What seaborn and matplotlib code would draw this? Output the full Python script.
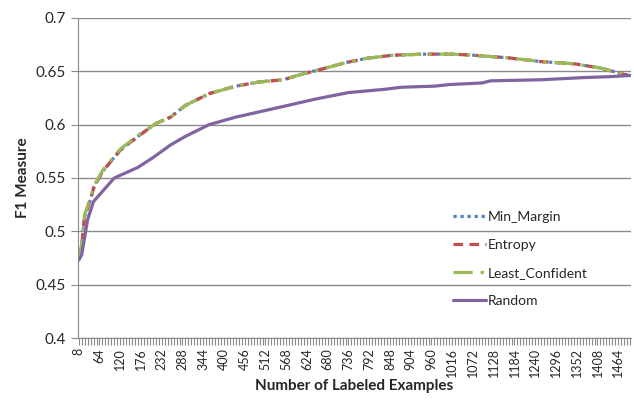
import numpy as np
import pandas as pd
import seaborn as sns
import matplotlib.pyplot as plt
from matplotlib.ticker import MultipleLocator, FixedLocator

# values (labeled examples vs F1)
x_unc = [8, 16, 24, 40, 48, 72, 120, 168, 216, 256, 296, 360, 432, 496, 560, 608,
         664, 728, 784, 856, 944, 1016, 1072, 1168, 1256, 1344, 1416, 1448, 1480, 1496]
min_margin = [0.475, 0.487, 0.514, 0.530, 0.541, 0.556, 0.576, 0.589, 0.601, 0.607,
              0.618, 0.629, 0.636, 0.640, 0.642, 0.647, 0.652, 0.658, 0.662, 0.665,
              0.666, 0.666, 0.665, 0.6625, 0.659, 0.657, 0.653, 0.650, 0.647, 0.646]
entropy = [0.475, 0.487, 0.514, 0.530, 0.540, 0.556, 0.576, 0.589, 0.601, 0.607,
           0.618, 0.629, 0.636, 0.640, 0.642, 0.647, 0.652, 0.658, 0.662, 0.665,
           0.666, 0.666, 0.665, 0.6625, 0.659, 0.657, 0.653, 0.650, 0.647, 0.646]
least_confident = [0.475, 0.488, 0.516, 0.532, 0.542, 0.557, 0.577, 0.590, 0.601, 0.607,
                   0.618, 0.629, 0.636, 0.640, 0.642, 0.647, 0.652, 0.658, 0.662, 0.665,
                   0.666, 0.666, 0.665, 0.6625, 0.659, 0.657, 0.653, 0.650, 0.647, 0.646]

x_rand = [8, 16, 32, 48, 104, 168, 208, 256, 296, 360, 432, 496, 560, 648, 736, 832,
          880, 968, 1008, 1096, 1120, 1256, 1368, 1448, 1496]
random_sel = [0.473, 0.478, 0.511, 0.528, 0.550, 0.560, 0.569, 0.581, 0.589, 0.600,
              0.607, 0.612, 0.617, 0.624, 0.630, 0.633, 0.635, 0.636, 0.6375, 0.639,
              0.641, 0.642, 0.644, 0.645, 0.646]

tick_labels = list(range(8, 1465, 56))

sns.set_style("white")
plt.rcParams['font.family'] = ['Lato', 'DejaVu Sans']

fig = plt.figure(figsize=(6.34, 4.05), dpi=100)
ax = fig.add_axes([0.123, 0.165, 0.872, 0.791])

series = [
    ('Min_Margin', x_unc, min_margin, '#4F81BD', (0, (1, 1.2))),
    ('Entropy', x_unc, entropy, '#C0504D', (0, (3, 2))),
    ('Least_Confident', x_unc, least_confident, '#9BBB59', (0, (6, 2.5, 1, 2.5))),
    ('Random', x_rand, random_sel, '#8064A2', '-'),
]
for name, xs, ys, col, ls in series:
    df = pd.DataFrame({'x': xs, 'y': ys})
    sns.lineplot(data=df, x='x', y='y', ax=ax, color=col, linewidth=2.3,
                 linestyle=ls, label=name)

ax.set_xlim(6, 1498)
ax.set_ylim(0.4, 0.7)
ax.yaxis.set_major_locator(MultipleLocator(0.05))
ax.set_yticklabels([f'{v:g}' for v in ax.get_yticks()])
ax.grid(axis='y', color='#8a8a8a', linewidth=1)
ax.set_axisbelow(True)

ax.xaxis.set_major_locator(FixedLocator(tick_labels))
ax.xaxis.set_minor_locator(MultipleLocator(8))
ax.set_xticklabels([str(t) for t in tick_labels], rotation=90, fontsize=9)
ax.tick_params(axis='x', which='both', direction='out', length=5, color='#8a8a8a',
               bottom=True, width=0.8, pad=2)
ax.tick_params(axis='y', direction='out', length=5, color='#8a8a8a', left=True,
               labelsize=11)

for s in ['top', 'right']:
    ax.spines[s].set_visible(False)
for s in ['left', 'bottom']:
    ax.spines[s].set_color('#8a8a8a')

ax.set_xlabel('Number of Labeled Examples', fontsize=11, fontweight='bold', labelpad=1)
ax.set_ylabel('F1 Measure', fontsize=11, fontweight='bold')

ax.legend(loc='upper left', bbox_to_anchor=(0.655, 0.435), frameon=False,
          fontsize=10, handlelength=2.4, handletextpad=0.15, labelspacing=1.15)

fig.savefig('out.png', dpi=100)
